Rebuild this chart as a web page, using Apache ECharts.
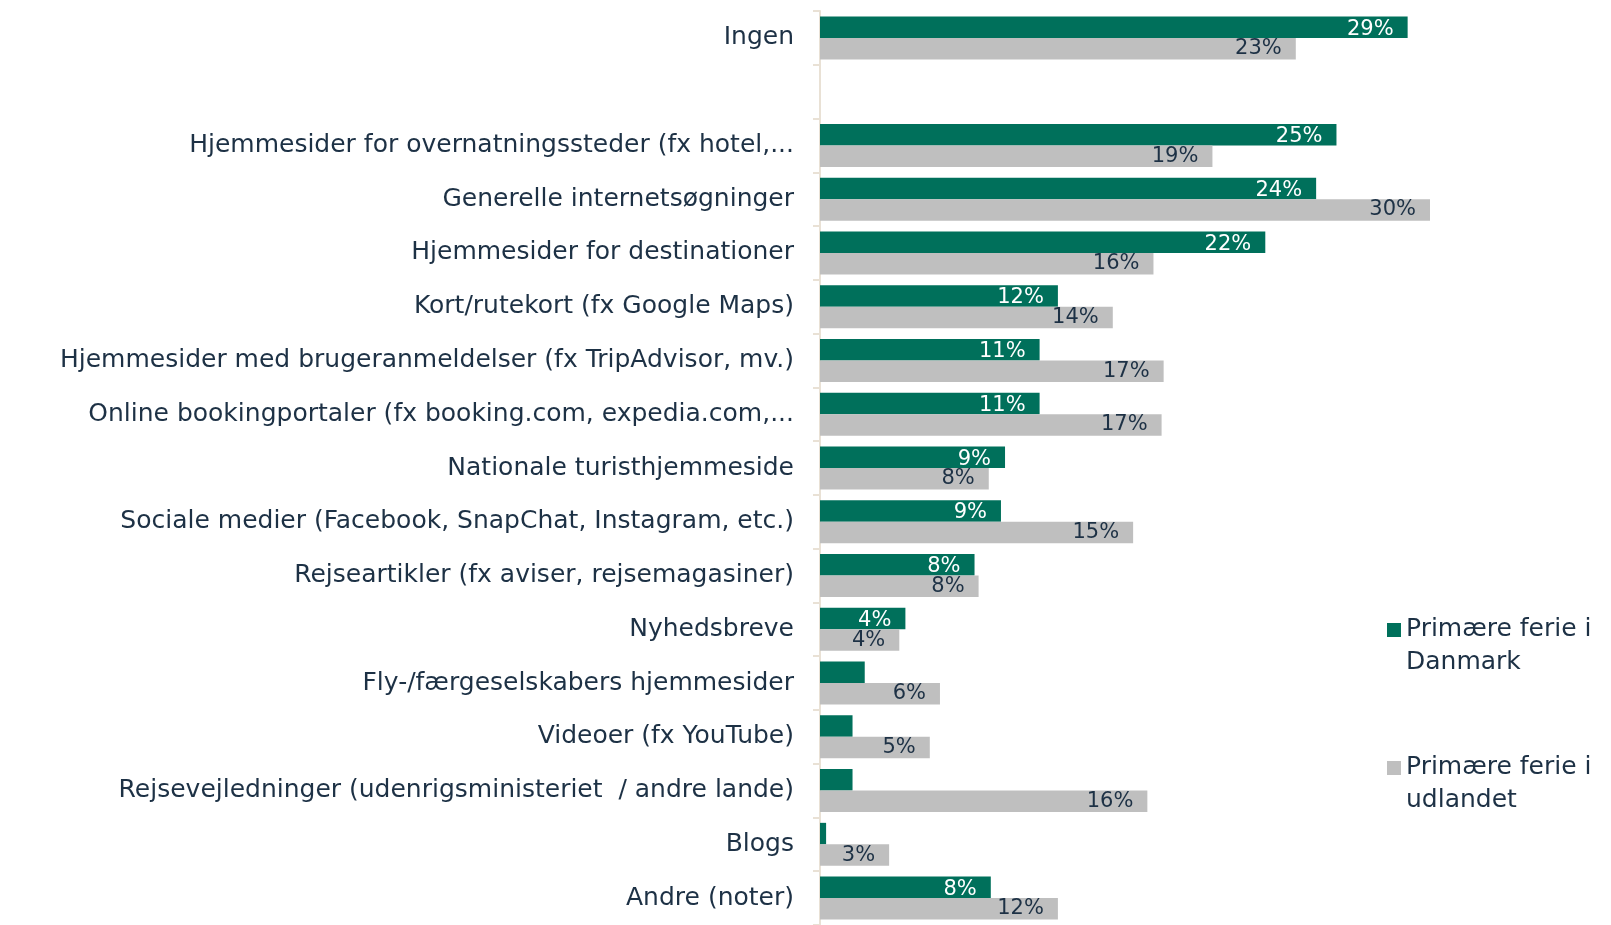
<!DOCTYPE html>
<html>
<head>
<meta charset="utf-8">
<title>Kilder til inspiration</title>
<script src="https://cdn.jsdelivr.net/npm/echarts@6/dist/echarts.min.js"></script>
<style>
  html, body { margin: 0; padding: 0; background: #ffffff; }
  #chart { width: 1611px; height: 925px; }
</style>
</head>
<body>
<div id="chart"></div>
<script>
// 1. Data (in %)
const categories = [
    'Ingen',
    '',
    'Hjemmesider for overnatningssteder (fx hotel,...',
    'Generelle internetsøgninger',
    'Hjemmesider for destinationer',
    'Kort/rutekort (fx Google Maps)',
    'Hjemmesider med brugeranmeldelser (fx TripAdvisor, mv.)',
    'Online bookingportaler (fx booking.com, expedia.com,...',
    'Nationale turisthjemmeside',
    'Sociale medier (Facebook, SnapChat, Instagram, etc.)',
    'Rejseartikler (fx aviser, rejsemagasiner)',
    'Nyhedsbreve',
    'Fly-/færgeselskabers hjemmesider',
    'Videoer (fx YouTube)',
    'Rejsevejledninger (udenrigsministeriet  / andre lande)',
    'Blogs',
    'Andre (noter)'
];
const seriesNames = ['Primære ferie i\nDanmark', 'Primære ferie i\nudlandet'];
const danmark = [28.9, null, 25.4, 24.4, 21.9, 11.7, 10.8, 10.8, 9.1, 8.9, 7.6, 4.2, 2.2, 1.6, 1.6, 0.3, 8.4];
const udlandet = [23.4, null, 19.3, 30.0, 16.4, 14.4, 16.9, 16.8, 8.3, 15.4, 7.8, 3.9, 5.9, 5.4, 16.1, 3.4, 11.7];

// 2. Colours / fonts
const green = '#00705b';
const grey = '#bfbfbf';
const navy = '#1d3145';
const font = 'DejaVu Sans';

// square icon sitting at the top of a taller legend item
const legendIcon = 'path://M0,0H10V10H0Z M0,32.8H0.01V32.9H0Z';

const chart = echarts.init(document.getElementById('chart'));

function pctLabel(p) {
    if (p.value == null || p.value < 3) return '';
    return Math.round(p.value) + '%';
}

// 3. Options
const option = {
    animation: false,
    textStyle: { fontFamily: font },
    // last band runs past the bottom edge, like the original
    grid: { left: 820, width: 610, top: 11, height: 920, containLabel: false },
    legend: {
        orient: 'vertical',
        left: 1382,
        top: 608,
        itemWidth: 14,
        itemHeight: 46,
        itemGap: 72,
        icon: legendIcon,
        textStyle: { fontFamily: font, fontSize: 25, lineHeight: 33, color: navy },
        data: seriesNames
    },
    xAxis: {
        type: 'value',
        min: 0,
        max: 30,
        show: false
    },
    yAxis: {
        type: 'category',
        inverse: true,
        data: categories,
        axisLine: { lineStyle: { color: '#e9e1d5', width: 2 } },
        axisTick: { show: true, length: 7, lineStyle: { color: '#e9e1d5', width: 2 } },
        axisLabel: {
            interval: 0,
            margin: 26,
            fontSize: 25,
            color: navy,
            fontFamily: font
        }
    },
    series: [
        {
            name: seriesNames[0],
            type: 'bar',
            data: danmark,
            barGap: '0%',
            barCategoryGap: '20%',
            itemStyle: { color: green },
            label: {
                show: true,
                position: 'insideRight',
                distance: 14,
                offset: [0, 2],
                color: '#ffffff',
                fontSize: 21,
                fontFamily: font,
                formatter: pctLabel
            }
        },
        {
            name: seriesNames[1],
            type: 'bar',
            data: udlandet,
            barGap: '0%',
            barCategoryGap: '20%',
            itemStyle: { color: grey },
            label: {
                show: true,
                position: 'insideRight',
                distance: 14,
                color: navy,
                fontSize: 21,
                fontFamily: font,
                formatter: pctLabel
            }
        }
    ]
};

chart.setOption(option);
window.addEventListener('resize', chart.resize);
</script>
</body>
</html>
